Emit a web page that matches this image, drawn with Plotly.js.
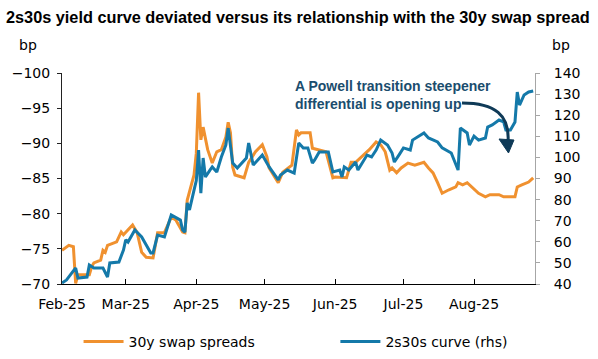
<!DOCTYPE html>
<html>
<head>
<meta charset="utf-8">
<script src="https://cdn.plot.ly/plotly-3.0.1.min.js"></script>
<style>html,body{margin:0;padding:0;background:#fff;}#chart{width:598px;height:359px;}</style>
</head>
<body>
<div id="chart"></div>
<script>
// 30y swap spreads (left axis, bp)
const swapDates = ['2025-02-01','2025-02-04','2025-02-06','2025-02-07','2025-02-08','2025-02-13','2025-02-14','2025-02-15','2025-02-18','2025-02-19','2025-02-20','2025-02-21','2025-02-25','2025-02-27','2025-02-28','2025-03-02','2025-03-04','2025-03-06','2025-03-08','2025-03-10','2025-03-13','2025-03-15','2025-03-18','2025-03-21','2025-03-23','2025-03-26','2025-03-27','2025-03-28','2025-03-31','2025-04-01','2025-04-02','2025-04-03','2025-04-04','2025-04-06','2025-04-08','2025-04-10','2025-04-12','2025-04-14','2025-04-15','2025-04-16','2025-04-17','2025-04-18','2025-04-22','2025-04-24','2025-04-27','2025-04-30','2025-05-02','2025-05-03','2025-05-07','2025-05-09','2025-05-13','2025-05-15','2025-05-16','2025-05-17','2025-05-21','2025-05-22','2025-05-24','2025-05-28','2025-05-31','2025-06-01','2025-06-06','2025-06-08','2025-06-10','2025-06-12','2025-06-16','2025-06-19','2025-06-21','2025-06-23','2025-06-25','2025-06-26','2025-06-28','2025-06-30','2025-07-03','2025-07-06','2025-07-10','2025-07-12','2025-07-14','2025-07-16','2025-07-18','2025-07-21','2025-07-24','2025-07-25','2025-07-27','2025-07-29','2025-07-31','2025-08-03','2025-08-06','2025-08-08','2025-08-12','2025-08-14','2025-08-19','2025-08-20','2025-08-22','2025-08-25','2025-08-27'];
const swapVals = [-74.8,-75.5,-75.3,-70.1,-71.3,-71.3,-72.4,-73.0,-73.4,-74.8,-74.5,-75.5,-76.0,-77.4,-77.0,-77.7,-78.4,-77.3,-74.5,-73.8,-73.7,-77.3,-77.3,-79.5,-79.1,-77.4,-77.3,-81.9,-85.5,-88.6,-97.2,-90.5,-92.3,-89.1,-87.2,-88.8,-89.1,-90.9,-93.0,-91.5,-86.6,-85.5,-85.1,-87.3,-88.8,-89.8,-88.1,-86.5,-84.4,-85.9,-86.9,-91.9,-91.2,-91.5,-91.5,-89.3,-89.1,-88.8,-85.1,-85.2,-85.1,-87.3,-87.3,-87.9,-89.1,-90.2,-89.8,-88.8,-86.2,-86.5,-85.8,-86.5,-87.2,-86.9,-87.3,-86.5,-85.8,-84.4,-82.9,-83.4,-83.8,-84.4,-84.1,-84.4,-83.8,-82.9,-82.4,-82.7,-82.7,-82.4,-82.4,-83.8,-84.1,-84.5,-85.1];

// 2s30s curve (right axis, bp)
const curveDates = ['2025-02-01','2025-02-03','2025-02-07','2025-02-08','2025-02-12','2025-02-13','2025-02-15','2025-02-19','2025-02-21','2025-02-22','2025-02-26','2025-02-28','2025-03-01','2025-03-02','2025-03-05','2025-03-08','2025-03-12','2025-03-13','2025-03-15','2025-03-18','2025-03-21','2025-03-23','2025-03-25','2025-03-26','2025-03-27','2025-03-28','2025-03-29','2025-03-31','2025-04-01','2025-04-02','2025-04-03','2025-04-04','2025-04-05','2025-04-07','2025-04-08','2025-04-10','2025-04-12','2025-04-14','2025-04-15','2025-04-17','2025-04-19','2025-04-23','2025-04-24','2025-04-26','2025-04-30','2025-05-03','2025-05-07','2025-05-08','2025-05-11','2025-05-14','2025-05-16','2025-05-18','2025-05-20','2025-05-22','2025-05-23','2025-05-25','2025-05-29','2025-05-31','2025-06-03','2025-06-04','2025-06-05','2025-06-07','2025-06-10','2025-06-11','2025-06-15','2025-06-17','2025-06-19','2025-06-21','2025-06-24','2025-06-26','2025-06-27','2025-06-29','2025-07-01','2025-07-04','2025-07-05','2025-07-10','2025-07-12','2025-07-16','2025-07-18','2025-07-22','2025-07-25','2025-07-26','2025-07-29','2025-07-30','2025-08-01','2025-08-03','2025-08-06','2025-08-07','2025-08-09','2025-08-12','2025-08-14','2025-08-15','2025-08-17','2025-08-19','2025-08-20','2025-08-21','2025-08-23','2025-08-25','2025-08-27'];
const curveVals = [40.5,41.9,47.6,42.8,43.3,49.0,47.6,47.6,43.3,50.0,50.4,56.1,60.9,59.9,65.6,62.3,54.7,54.7,63.2,62.3,72.7,71.3,70.3,65.6,64.6,78.4,75.1,84.5,89.0,103.5,83.1,99.7,90.7,94.0,95.5,93.1,100.2,105.9,113.9,97.3,95.0,99.7,106.8,96.4,101.1,95.5,89.3,91.7,94.0,92.6,106.8,104.5,104.5,97.3,98.8,102.6,102.6,93.1,94.0,90.7,95.5,94.0,97.8,94.0,101.1,100.2,103.5,108.2,105.9,102.1,97.8,101.1,104.5,103.5,108.2,111.6,109.2,107.3,104.5,102.1,94.0,113.9,111.6,105.9,110.1,108.2,109.2,114.4,115.4,117.7,116.8,113.0,113.0,116.8,131.0,124.8,129.6,131.0,131.5];

const monthTicks = ['2025-02-01','2025-03-01','2025-04-01','2025-05-01','2025-06-01','2025-07-01','2025-08-01'];
const monthLabels = ['Feb-25','Mar-25','Apr-25','May-25','Jun-25','Jul-25','Aug-25'];
const leftTicks = [-100,-95,-90,-85,-80,-75,-70];
const rightTicks = [40,50,60,70,80,90,100,110,120,130,140];

const FONT = 'DejaVu Sans, Liberation Sans, Arial, sans-serif';
const BOLDFONT = 'Liberation Sans, Arial, sans-serif';

const traces = [
  {x: swapDates, y: swapVals, type: 'scatter', mode: 'lines', name: '30y swap spreads',
   line: {color: '#F0912F', width: 3}, yaxis: 'y', legend: 'legend', hoverinfo: 'skip'},
  {x: curveDates, y: curveVals, type: 'scatter', mode: 'lines', name: '2s30s curve (rhs)',
   line: {color: '#1479A9', width: 3}, yaxis: 'y2', legend: 'legend2', hoverinfo: 'skip'}
];

const legendCommon = {orientation: 'h', xanchor: 'left', yanchor: 'middle', yref: 'container', y: 0.0474,
  font: {family: FONT, size: 14, color: '#000'}, bgcolor: 'rgba(0,0,0,0)', borderwidth: 0, itemwidth: 40};

const layout = {
  width: 598, height: 359,
  margin: {l: 62, r: 63, t: 73, b: 75, pad: 0, autoexpand: false},
  paper_bgcolor: '#fff', plot_bgcolor: '#fff',
  font: {family: FONT, size: 14, color: '#000'},
  showlegend: true,
  title: {text: '<b>2s30s yield curve deviated versus its relationship with the 30y swap spread</b>',
    x: 0.01, xref: 'container', xanchor: 'left', y: 0.953, yref: 'container', yanchor: 'middle',
    font: {family: BOLDFONT, size: 16.3, color: '#000'}},
  xaxis: {type: 'date', range: ['2025-02-01', '2025-08-27 19:00'],
    tickmode: 'array', tickvals: monthTicks, ticktext: monthLabels,
    showline: true, linecolor: '#000', linewidth: 1,
    ticks: 'inside', ticklen: 5, tickcolor: '#000', tickwidth: 1,
    showgrid: false, zeroline: false, fixedrange: true,
    tickfont: {family: FONT, size: 14, color: '#000'}, ticklabelstandoff: 7},
  yaxis: {range: [-70, -100], tickmode: 'array', tickvals: leftTicks,
    showline: true, linecolor: '#222', linewidth: 1,
    ticks: 'outside', ticklen: 4, tickcolor: '#222',
    showgrid: false, zeroline: false, fixedrange: true,
    tickfont: {family: FONT, size: 14, color: '#000'}, ticklabelstandoff: 4},
  yaxis2: {range: [40, 140], overlaying: 'y', side: 'right', tickmode: 'array', tickvals: rightTicks,
    showline: true, linecolor: '#a6a6a6', linewidth: 1,
    ticks: 'outside', ticklen: 4, tickcolor: '#a6a6a6',
    showgrid: false, zeroline: false, fixedrange: true,
    tickfont: {family: FONT, size: 14, color: '#000'}, ticklabelstandoff: 11},
  legend: Object.assign({}, legendCommon, {x: 0.035}),
  legend2: Object.assign({}, legendCommon, {x: 0.578}),
  annotations: [
    {text: 'bp', xref: 'paper', yref: 'paper', x: -0.072, y: 1.133, xanchor: 'center', yanchor: 'middle',
     showarrow: false, font: {family: FONT, size: 14, color: '#000'}},
    {text: 'bp', xref: 'paper', yref: 'paper', x: 1.055, y: 1.133, xanchor: 'center', yanchor: 'middle',
     showarrow: false, font: {family: FONT, size: 14, color: '#000'}},
    {text: '<b>A Powell transition steepener<br>differential is opening up</b>', xref: 'paper', yref: 'paper',
     x: 0.488, y: 0.898, xanchor: 'left', yanchor: 'middle', align: 'left', showarrow: false,
     font: {family: BOLDFONT, size: 14, color: '#1B4D6E'}}
  ],
  shapes: [
    {type: 'path', xref: 'paper', yref: 'paper',
     path: 'M 0.8457 0.8578 C 0.9154 0.8578 0.9471 0.8009 0.9429 0.673',
     line: {color: '#0F3A57', width: 3}},
    {type: 'path', xref: 'paper', yref: 'paper',
     path: 'M 0.9440 0.6209 L 0.9239 0.6872 L 0.9556 0.6825 Z',
     fillcolor: '#0F3A57', line: {color: '#0F3A57', width: 1}}
  ]
};

Plotly.newPlot('chart', traces, layout, {displayModeBar: false, staticPlot: true});
</script>
</body>
</html>
